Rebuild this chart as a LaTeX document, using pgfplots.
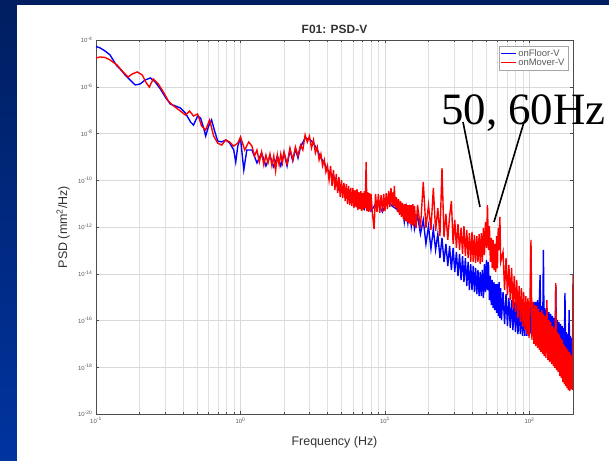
\documentclass[border=0pt]{standalone}
\usepackage{fontspec}
\setmainfont{Liberation Sans}
\newfontfamily\anfont{Liberation Serif}
\usepackage{pgfplots}
\pgfplotsset{compat=1.18}
\definecolor{navytop}{RGB}{0,30,96}
\definecolor{navybot}{RGB}{0,52,160}
\definecolor{tickgray}{RGB}{90,90,90}
\begin{document}
\begin{tikzpicture}
\fill[top color=navytop, bottom color=navybot] (0,0) rectangle (609bp,461bp);
\fill[white] (17bp,0) rectangle (609bp,456bp);
\useasboundingbox (0,0) rectangle (609bp,461bp);
\begin{axis}[
  at={(96bp,47bp)}, anchor=south west, scale only axis,
  width=477bp, height=374bp,
  xmode=log, ymode=log,
  xmin=0.1, xmax=200, ymin=1e-20, ymax=1e-4,
  xtick={0.1,1,10,100},
  xticklabels={10\textsuperscript{-1},10\textsuperscript{0},10\textsuperscript{1},10\textsuperscript{2}},
  ytick={1e-20,1e-18,1e-16,1e-14,1e-12,1e-10,1e-8,1e-6,1e-4},
  yticklabels={10\textsuperscript{-20},10\textsuperscript{-18},10\textsuperscript{-16},10\textsuperscript{-14},10\textsuperscript{-12},10\textsuperscript{-10},10\textsuperscript{-8},10\textsuperscript{-6},10\textsuperscript{-4}},
  yminorticks=false,
  grid=both,
  major grid style={gray!30, line width=0.4pt},
  minor grid style={gray!25, line width=0.35pt},
  tick align=inside,
  major tick length=3bp, minor tick length=2bp,
  tick style={gray!60!black, line width=0.4pt},
  axis line style={gray!60!black, line width=0.6pt},
  tick label style={font=\fontsize{6}{7}\selectfont, text=tickgray},
  every axis title shift=0pt,
  title={\bfseries F01: PSD-V},
  title style={font=\fontsize{12}{14}\selectfont, text=black!80, at={(axis description cs:0.5,1.028)}, anchor=center},
  xlabel={Frequency (Hz)},
  xlabel style={font=\fontsize{12.5}{14}\selectfont, text=black!80, at={(axis description cs:0.5,-0.075)}, anchor=center},
  ylabel={PSD (mm\textsuperscript{2}/Hz)},
  ylabel style={font=\fontsize{12.5}{14}\selectfont, text=black!80, at={(axis description cs:-0.069,0.5)}, anchor=center},
  legend style={at={(axis description cs:0.99,0.984)}, anchor=north east,
    font=\fontsize{9.5}{10}\selectfont, text=tickgray, draw=gray!70, inner sep=1.5pt, row sep=-3.5pt},
  legend cell align=left,
  legend image post style={line width=1pt},
  legend image code/.code={\draw[#1] (0bp,0bp) -- (15bp,0bp);},
]
\addplot[blue, line width=1.4pt] coordinates {
(0.1,5.3e-5) (0.1066,4.6e-5) (0.1155,3.4e-5) (0.125,2.3e-5) (0.138,8.5e-6) (0.147,5.7e-6) (0.159,3.2e-6) (0.172,1.95e-6) (0.187,1.19e-6) (0.202,1.31e-6) (0.219,1.95e-6) (0.238,2.37e-6) (0.257,1.6e-6) (0.279,8.0e-7) (0.302,3.6e-7) (0.327,1.82e-7) (0.355,1.5e-7) (0.384,1.23e-7) (0.416,7.5e-8) (0.451,3.1e-8) (0.473,2.3e-8) (0.505,5.6e-8) (0.529,4.6e-8) (0.556,1.72e-8) (0.574,7.8e-9) (0.602,2.1e-8) (0.631,3.8e-8) (0.662,1.28e-8) (0.695,4.8e-9) (0.741,4.35e-9) (0.790,5.3e-9) (0.842,3.9e-9) (0.898,1.97e-9) (0.927,6.0e-10) (0.958,2.9e-9) (1.0,6.4e-9) (1.054,2.75e-10) (1.106,1.97e-9)
(1.2,1.97e-9) (1.3,5.5e-10) (1.4,1.47e-9) (1.5,4.1e-10) (1.6,1.09e-9) (1.7,3.7e-10) (1.8,1.09e-9) (1.9,4.1e-10) (2.0,1.47e-9) (2.1,4.1e-10) (2.2,1.97e-9) (2.3,6.7e-10) (2.4,2.2e-9) (2.5,8.9e-10) (2.6,2.65e-9) (2.8,6.4e-9) (3.0,5.8e-9) (3.2,3.9e-9) (3.4,1.97e-9) (3.6,8.9e-10) (3.8,5.5e-10) (4.0,2.75e-10) (4.4,1.52e-10) (4.8,3.8e-11) (5.2,5.7e-11) (5.6,1.57e-11) (6.0,2.6e-11) (6.4,7.9e-12) (6.8,1.74e-11) (7.2,5.9e-12) (7.6,1.43e-11) (8.0,4.8e-12) (8.8,1.17e-11) (9.6,4.4e-12) (10.4,1.43e-11) (11.2,7.9e-12) (12.0,5.9e-12) (12.8,4.0e-12)
(13.2,7.9e-12) (13.6,1.64e-12) (14.0,6.5e-12) (14.4,1.48e-12) (14.8,5.3e-12) (15.2,1.1e-12) (15.6,4.0e-12) (16.0,8.2e-13) (16.8,3.0e-12) (17.6,5.0e-13) (18.4,2.0e-12) (19.2,1.9e-13) (20.0,1.1e-12) (20.8,1.15e-13) (21.6,8.2e-13) (22.4,1.04e-13) (23.2,5.0e-13) (24.0,4.7e-14) (24.8,3.4e-13) (25.6,3.2e-14) (26.4,1.9e-13) (27.2,2.15e-14) (28.0,1.54e-13) (28.8,1.45e-14) (29.6,1.27e-13) (30.4,1.19e-14) (31.2,8.5e-14) (32.0,8.0e-15)
(32.8,7.0e-14) (33.6,5.4e-15) (34.4,5.7e-14) (35.2,4.4e-15) (36.0,4.7e-14) (36.8,3.0e-15) (37.6,3.2e-14) (38.4,2.0e-15) (39.2,2.6e-14) (40.0,2.0e-15) (40.8,2.15e-14) (41.6,1.65e-15) (42.4,1.76e-14) (43.2,1.36e-15) (44.0,1.45e-14) (44.8,1.11e-15) (45.6,1.19e-14) (46.4,1.11e-15) (47.2,1.45e-14) (48.0,9.2e-16) (48.8,2.6e-14) (49.6,1.65e-15) (50.4,3.9e-14) (51.2,2.0e-15) (52.0,3.2e-14) (52.8,7.5e-16) (53.6,8.0e-15) (54.4,4.6e-16) (55.2,5.4e-15) (56.0,3.4e-16) (56.8,4.4e-15) (57.6,2.8e-16) (58.4,3.6e-15) (59.2,2.1e-16) (60.0,3.6e-15) (60.8,1.56e-16) (61.6,4.4e-15) (62.4,1.28e-16) (63.2,2.45e-15) (64.0,1.05e-16)
(65.6,1.65e-15) (67.2,7.1e-17) (68.8,1.36e-15) (70.4,5.8e-17) (72.0,9.2e-16) (73.6,4.8e-17) (75.2,7.5e-16) (76.8,3.9e-17) (78.4,6.2e-16) (80.0,3.2e-17) (81.6,5.1e-16) (83.2,2.65e-17) (84.8,4.2e-16) (86.4,2.65e-17) (88.0,3.4e-16) (89.6,2.2e-17) (91.2,4.2e-16) (92.8,2.2e-17) (94.4,3.4e-16) (96.0,2.2e-17) (97.6,4.2e-16) (99.2,2.65e-17) (100.8,4.6e-16) (102.4,2.65e-17) (104.0,5.6e-16) (105.6,2.4e-17) (107.2,6.2e-16) (108.8,2.2e-17) (110.4,6.2e-16) (112.0,2.2e-17) (113.6,7.5e-16) (115.2,1.79e-17) (116.8,5.1e-16) (118.4,8.8e-15) (120.0,1.47e-17) (121.6,4.2e-16) (123.2,1.2e-17) (124.8,1.04e-13) (126.4,1.2e-17) (128.0,3.4e-16)
(130,9.9e-18) (132,2.8e-16) (134,8.1e-18) (136,2.3e-16) (138,8.1e-18) (140,1.9e-16) (142,6.7e-18) (144,1.56e-16) (146,5.5e-18) (148,1.28e-16) (150,5.5e-18) (152,3.3e-15) (154,4.5e-18) (156,1.05e-16) (158,3.7e-18) (160,8.6e-17) (162,3.3e-18) (164,7.1e-17) (166,3.0e-18) (168,5.8e-17) (170,2.75e-18) (172,4.8e-17) (174,2.5e-18) (176,1.5e-15) (178,2.0e-18) (180,3.2e-17) (182,2.0e-18) (184,2.65e-17) (186,1.68e-18) (188,2.8e-16) (190,1.68e-18) (192,2.2e-17) (194,1.68e-18) (196,1.79e-17) (198,2.0e-18) (200,1.47e-17)
};
\addlegendentry{onFloor-V}
\addplot[red, line width=1.4pt] coordinates {
(0.1,1.7e-5) (0.1066,1.88e-5) (0.1155,1.79e-5) (0.125,1.4e-5) (0.140,8.5e-6) (0.152,4.7e-6) (0.167,2.6e-6) (0.178,3.5e-6) (0.193,4.3e-6) (0.209,3.2e-6) (0.223,1.45e-6) (0.234,9.7e-7) (0.249,2.15e-6) (0.270,1.31e-6) (0.293,5.9e-7) (0.317,2.45e-7) (0.338,1.65e-7) (0.360,1.23e-7) (0.384,9.1e-8) (0.416,6.2e-8) (0.444,9.1e-8) (0.473,5.6e-8) (0.505,6.8e-8) (0.538,2.1e-8) (0.574,1.41e-8) (0.611,3.8e-8) (0.652,7.8e-9) (0.695,3.9e-9) (0.741,3.2e-9) (0.790,5.3e-9) (0.842,4.35e-9) (0.898,2.9e-9) (0.958,3.9e-9) (1.0,7.1e-9) (1.07,1.97e-9) (1.14,4.35e-9)
(1.2,2.9e-9) (1.25,1.09e-9) (1.3,1.97e-9) (1.35,6.0e-10) (1.4,1.62e-9) (1.45,4.5e-10) (1.5,1.2e-9) (1.55,5.5e-10) (1.6,1.33e-9) (1.65,4.1e-10) (1.7,1.09e-9) (1.75,2.5e-10) (1.8,1.2e-9) (1.85,4.5e-10) (1.9,1.33e-9) (1.95,5.5e-10) (2.0,1.62e-9) (2.1,5.0e-10) (2.2,2.4e-9) (2.3,7.4e-10) (2.4,2.65e-9) (2.5,1.09e-9) (2.6,3.2e-9) (2.7,1.97e-9) (2.8,8.7e-9) (2.9,4.3e-9) (3.0,7.8e-9) (3.1,2.4e-9) (3.2,5.3e-9) (3.3,1.47e-9) (3.4,2.65e-9) (3.5,7.4e-10) (3.6,1.33e-9) (3.7,4.1e-10) (3.8,7.4e-10) (3.9,2.25e-10) (4.0,4.1e-10)
(4.1,1.02e-10) (4.2,4.1e-10) (4.3,5.7e-11) (4.4,2.75e-10) (4.5,3.8e-11) (4.6,1.85e-10) (4.7,2.8e-11) (4.8,1.38e-10) (4.9,1.9e-11) (5.0,1.02e-10) (5.1,1.74e-11) (5.2,7.6e-11) (5.3,1.29e-11) (5.4,6.9e-11) (5.5,9.6e-12) (5.6,5.7e-11) (5.7,8.7e-12) (5.8,4.65e-11) (5.9,7.9e-12) (6.0,4.65e-11) (6.1,6.5e-12) (6.2,3.8e-11) (6.3,7.2e-12) (6.4,4.2e-11) (6.5,5.3e-12) (6.6,3.1e-11) (6.7,5.9e-12) (6.8,3.45e-11) (6.9,4.8e-12) (7.0,2.8e-11) (7.1,5.3e-12) (7.2,3.45e-11) (7.3,6.5e-12) (7.4,6.0e-10) (7.5,4.8e-12) (7.6,3.1e-11) (7.7,4.4e-12) (7.8,2.8e-11) (7.9,4.8e-12) (8.0,2.6e-11)
(8.2,3.6e-12) (8.4,8.2e-13) (8.6,2.6e-11) (8.8,4.4e-12) (9.0,2.6e-11) (9.2,4.0e-12) (9.4,2.3e-11) (9.6,4.4e-12) (9.8,2.6e-11) (10.0,4.8e-12) (10.2,2.8e-11) (10.4,5.9e-12) (10.6,3.45e-11) (10.8,7.2e-12) (11.0,4.65e-11) (11.2,8.7e-12) (11.4,3.1e-11) (11.5,7.9e-12) (11.6,5.7e-11) (11.8,6.5e-12) (12.0,1.9e-11) (12.2,4.4e-12) (12.4,1.57e-11) (12.6,3.3e-12) (12.8,1.29e-11) (13.0,2.7e-12) (13.2,1.06e-11) (13.4,2.2e-12) (13.6,9.6e-12) (13.8,1.8e-12) (14.0,9.6e-12) (14.2,1.64e-12) (14.4,8.7e-12) (14.6,1.48e-12) (14.8,8.7e-12) (15.0,1.34e-12) (15.2,8.7e-12) (15.4,1.22e-12) (15.6,9.6e-12) (15.8,1.1e-12) (16.0,7.9e-12) (16.4,9.1e-13)
(16.8,8.7e-12) (17.6,9.1e-13) (18.4,8.4e-11) (19.2,9.1e-13) (20.0,8.7e-12) (20.8,7.5e-13) (21.6,4.65e-11) (22.4,6.8e-13) (23.2,6.5e-12) (24.0,4.1e-13) (24.8,3.3e-10) (25.6,3.7e-13) (26.4,3.6e-12) (27.2,2.8e-13) (28.0,3.0e-12) (28.8,1.29e-11) (29.6,1.9e-13) (30.4,2.0e-12) (31.2,1.27e-13) (32.0,1.34e-12)
(32.8,1.04e-13) (33.6,9.1e-13) (34.4,7.0e-14) (35.2,1.1e-12) (36.0,5.7e-14) (36.8,7.5e-13) (37.6,4.7e-14) (38.4,5.5e-13) (39.2,3.2e-14) (40.0,6.1e-13) (40.8,3.2e-14) (41.6,4.6e-13) (42.4,2.9e-14) (43.2,4.1e-13) (44.0,3.2e-14) (44.8,5.0e-13) (45.6,2.6e-14) (46.4,5.5e-13) (47.2,3.2e-14) (48.0,9.1e-13) (48.8,6.3e-14) (49.6,1.64e-12) (50.4,1.27e-13) (51.2,8.7e-12) (52.0,1.04e-13) (52.8,1.1e-12) (53.6,3.2e-14) (54.4,3.4e-13) (55.2,1.76e-14) (56.0,2.8e-13) (56.8,1.45e-14) (57.6,1.9e-13) (58.4,1.19e-14) (59.2,4.1e-13) (60.0,1.76e-14) (60.8,9.1e-13) (61.6,1.04e-13) (62.4,2.7e-12) (63.2,3.2e-14)
(65.6,8.5e-14) (67.2,2.0e-15) (68.8,4.7e-14) (70.4,1.23e-15) (72.0,2.4e-14) (73.6,7.5e-16) (75.2,1.76e-14) (76.8,3.4e-16) (78.4,8.0e-15) (80.0,2.3e-16) (81.6,5.4e-15) (83.2,1.28e-16) (84.8,3.0e-15) (86.4,8.6e-17) (88.0,2.45e-15) (89.6,5.3e-17) (91.2,1.65e-15) (92.8,3.9e-17) (94.4,1.11e-15) (96.0,2.65e-17) (97.6,9.2e-16) (99.2,1.79e-17) (100.8,7.5e-16) (102.4,2.8e-13) (104.0,1.47e-17) (105.6,6.2e-16) (107.2,9.9e-18) (108.8,4.6e-16) (110.4,8.1e-18) (112.0,4.2e-16) (113.6,6.7e-18) (115.2,3.1e-16) (116.8,5.5e-18) (118.4,2.3e-16) (120.0,4.5e-18) (121.6,2.8e-16) (123.2,3.7e-18) (124.8,1.9e-16) (126.4,3.0e-18) (128.0,1.56e-16)
(130,2.5e-18) (132,7.5e-16) (134,2.0e-18) (136,1.05e-16) (138,1.68e-18) (140,8.6e-17) (142,1.38e-18) (144,5.8e-17) (146,1.13e-18) (148,4.8e-17) (150,9.2e-19) (152,4.0e-15) (154,7.6e-19) (156,3.2e-17) (158,6.2e-19) (160,2.65e-17) (162,4.2e-19) (164,1.79e-17) (166,3.45e-19) (168,1.47e-17) (170,2.3e-19) (172,9.9e-18) (174,1.9e-19) (176,8.1e-18) (178,1.57e-19) (180,6.7e-18) (182,1.29e-19) (184,5.5e-18) (186,1.06e-19) (188,4.5e-18) (190,9.6e-20) (192,3.7e-18) (194,1.17e-19) (196,3.0e-18) (198,1.06e-19) (200,8.8e-15)
};
\addlegendentry{onMover-V}
\end{axis}
\node[anchor=base west, inner sep=0pt, font=\anfont\fontsize{45}{45}\selectfont] at (441bp,336bp) {50, 60Hz};
\draw[line width=1.6bp] (463bp,339bp) -- (480bp,254bp);
\draw[line width=1.6bp] (524bp,339bp) -- (494bp,239bp);
\end{tikzpicture}
\end{document}
